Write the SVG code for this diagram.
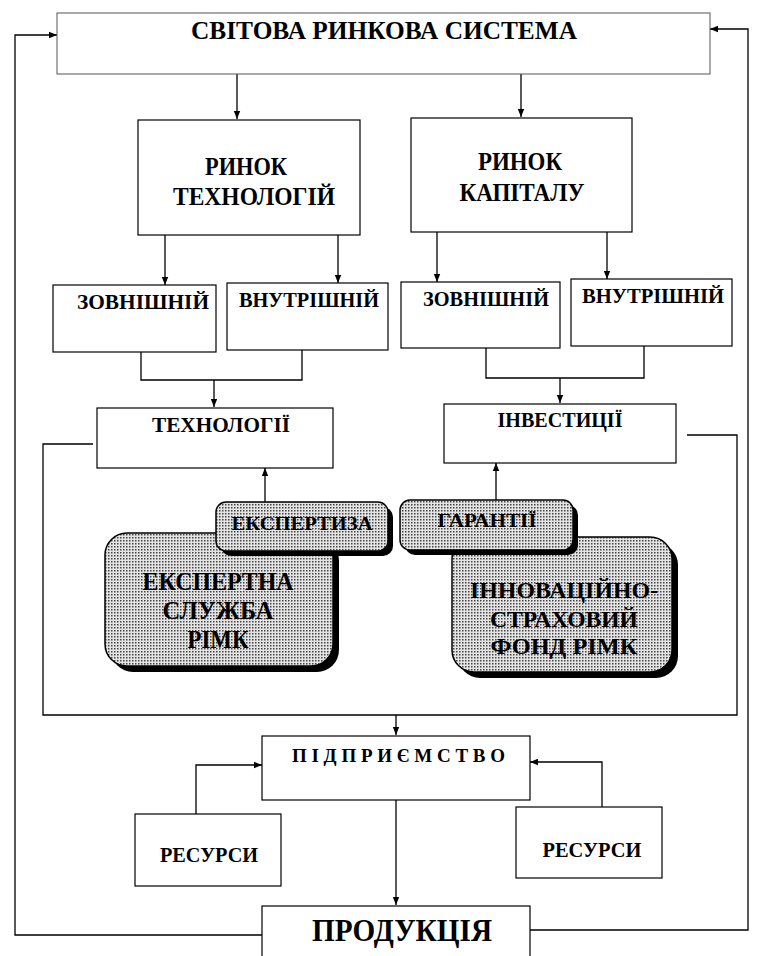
<svg xmlns="http://www.w3.org/2000/svg" width="757" height="956" viewBox="0 0 757 956">
<style>
.box{fill:#fff;stroke:#000;stroke-width:1.2}
.top{fill:#fff;stroke:#555;stroke-width:1}
.ln{fill:none;stroke:#000;stroke-width:1.3}
.t{font-family:"Liberation Serif","Times New Roman",serif;font-weight:bold;fill:#000;text-anchor:middle}
.sh{fill:#000}
.sd{fill:url(#dots);stroke:#000;stroke-width:1.5}
</style>
<defs>
<pattern id="dots" width="3" height="3" patternUnits="userSpaceOnUse">
<rect width="3" height="3" fill="#e4e4e4"/>
<rect width="1.5" height="1.5" fill="#444"/>
</pattern>
<marker id="ar" viewBox="0 0 10 10" refX="10" refY="5" markerWidth="8" markerHeight="8" markerUnits="userSpaceOnUse" orient="auto">
<path d="M0,1 L10,5 L0,9 Z" fill="#000"/>
</marker>
</defs>

<g id="connectors">
<path class="ln" d="M262,935 H15 V35 H57" marker-end="url(#ar)"/>
<path class="ln" d="M530,930 H748 V29 H710" marker-end="url(#ar)"/>
<path class="ln" d="M237,74 V119" marker-end="url(#ar)"/>
<path class="ln" d="M521,74 V117" marker-end="url(#ar)"/>
<path class="ln" d="M165,235 V285" marker-end="url(#ar)"/>
<path class="ln" d="M338,235 V283" marker-end="url(#ar)"/>
<path class="ln" d="M437,232 V282" marker-end="url(#ar)"/>
<path class="ln" d="M607,232 V279" marker-end="url(#ar)"/>
<path class="ln" d="M141,352 V380 H302 V350"/>
<path class="ln" d="M214,380 V407" marker-end="url(#ar)"/>
<path class="ln" d="M486,348 V378 H644 V346"/>
<path class="ln" d="M560,378 V403" marker-end="url(#ar)"/>
<path class="ln" d="M93,444 H43 V715 H737 V435 H687"/>
<path class="ln" d="M265,502 V468" marker-end="url(#ar)"/>
<path class="ln" d="M496,500 V463" marker-end="url(#ar)"/>
<path class="ln" d="M396,715 V735" marker-end="url(#ar)"/>
<path class="ln" d="M196,814 V765 H262" marker-end="url(#ar)"/>
<path class="ln" d="M602,807 V762 H530" marker-end="url(#ar)"/>
<path class="ln" d="M396,800 V905" marker-end="url(#ar)"/>
</g>

<g id="svitova">
<rect class="top" x="57" y="13" width="653" height="61"/>
<text class="t" x="384" y="39" font-size="25" textLength="386" lengthAdjust="spacingAndGlyphs">СВІТОВА РИНКОВА СИСТЕМА</text>
</g>

<g id="rynok-tekhnologii">
<rect class="box" x="138" y="120" width="222" height="115"/>
<text class="t" x="246" y="175" font-size="25" textLength="82" lengthAdjust="spacingAndGlyphs">РИНОК</text>
<text class="t" x="254" y="205" font-size="25" textLength="162" lengthAdjust="spacingAndGlyphs">ТЕХНОЛОГІЙ</text>
</g>

<g id="rynok-kapitalu">
<rect class="box" x="411" y="118" width="221" height="114"/>
<text class="t" x="520" y="170" font-size="25" textLength="84" lengthAdjust="spacingAndGlyphs">РИНОК</text>
<text class="t" x="522" y="201" font-size="25" textLength="125" lengthAdjust="spacingAndGlyphs">КАПІТАЛУ</text>
</g>

<g id="zovnishnii-1">
<rect class="box" x="53" y="285" width="163" height="67"/>
<text class="t" x="143" y="309" font-size="22" textLength="132" lengthAdjust="spacingAndGlyphs">ЗОВНІШНІЙ</text>
</g>
<g id="vnutrishnii-1">
<rect class="box" x="227" y="283" width="161" height="67"/>
<text class="t" x="309" y="307" font-size="22" textLength="140" lengthAdjust="spacingAndGlyphs">ВНУТРІШНІЙ</text>
</g>
<g id="zovnishnii-2">
<rect class="box" x="401" y="282" width="159" height="66"/>
<text class="t" x="486" y="306" font-size="22" textLength="126" lengthAdjust="spacingAndGlyphs">ЗОВНІШНІЙ</text>
</g>
<g id="vnutrishnii-2">
<rect class="box" x="571" y="279" width="161" height="67"/>
<text class="t" x="653" y="303" font-size="22" textLength="142" lengthAdjust="spacingAndGlyphs">ВНУТРІШНІЙ</text>
</g>

<g id="tekhnologii">
<rect class="box" x="97" y="408" width="236" height="60"/>
<text class="t" x="221" y="432" font-size="20" textLength="138" lengthAdjust="spacingAndGlyphs">ТЕХНОЛОГІЇ</text>
</g>
<g id="investytsii">
<rect class="box" x="444" y="404" width="232" height="59"/>
<text class="t" x="560" y="427" font-size="20" textLength="125" lengthAdjust="spacingAndGlyphs">ІНВЕСТИЦІЇ</text>
</g>

<g id="ekspertna-sluzhba">
<rect class="sh" x="111" y="539" width="228" height="133" rx="22"/>
<rect class="sd" x="105" y="533" width="228" height="133" rx="22"/>
<text class="t" x="218" y="590" font-size="25" textLength="151" lengthAdjust="spacingAndGlyphs">ЕКСПЕРТНА</text>
<text class="t" x="218" y="619" font-size="25" textLength="111" lengthAdjust="spacingAndGlyphs">СЛУЖБА</text>
<text class="t" x="218" y="648" font-size="25" textLength="61" lengthAdjust="spacingAndGlyphs">РІМК</text>
</g>
<g id="ekspertyza">
<rect class="sh" x="221" y="507" width="172" height="49" rx="10"/>
<rect class="sd" x="216" y="502" width="172" height="49" rx="10"/>
<text class="t" x="302" y="530" font-size="19" textLength="141" lengthAdjust="spacingAndGlyphs">ЕКСПЕРТИЗА</text>
</g>

<g id="fond">
<rect class="sh" x="458" y="543" width="220" height="135" rx="22"/>
<rect class="sd" x="452" y="537" width="220" height="135" rx="22"/>
<text class="t" x="564" y="598" font-size="24" textLength="188" lengthAdjust="spacingAndGlyphs">ІННОВАЦІЙНО-</text>
<text class="t" x="564" y="627" font-size="24" textLength="148" lengthAdjust="spacingAndGlyphs">СТРАХОВИЙ</text>
<text class="t" x="564" y="654" font-size="24" textLength="147" lengthAdjust="spacingAndGlyphs">ФОНД РІМК</text>
</g>
<g id="garantii">
<rect class="sh" x="405" y="505" width="173" height="50" rx="10"/>
<rect class="sd" x="400" y="500" width="173" height="50" rx="10"/>
<text class="t" x="487" y="527" font-size="19" textLength="99" lengthAdjust="spacingAndGlyphs">ГАРАНТІЇ</text>
</g>

<g id="pidpryiemstvo">
<rect class="box" x="262" y="736" width="268" height="64"/>
<text class="t" x="401" y="762" font-size="19" letter-spacing="5" textLength="218" lengthAdjust="spacing">ПІДПРИЄМСТВО</text>
</g>
<g id="resursy-1">
<rect class="box" x="135" y="814" width="146" height="72"/>
<text class="t" x="209" y="862" font-size="22" textLength="98" lengthAdjust="spacingAndGlyphs">РЕСУРСИ</text>
</g>
<g id="resursy-2">
<rect class="box" x="516" y="807" width="146" height="71"/>
<text class="t" x="592" y="857" font-size="22" textLength="99" lengthAdjust="spacingAndGlyphs">РЕСУРСИ</text>
</g>
<g id="produktsiia">
<rect class="box" x="262" y="906" width="268" height="55"/>
<text class="t" x="402" y="941" font-size="31" textLength="180" lengthAdjust="spacingAndGlyphs">ПРОДУКЦІЯ</text>
</g>
</svg>
